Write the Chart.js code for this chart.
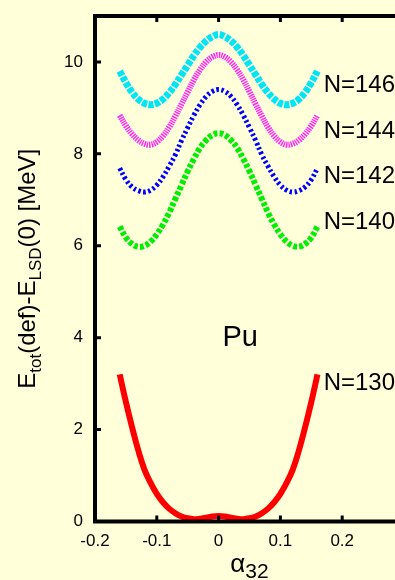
<!DOCTYPE html>
<html>
<head>
<meta charset="utf-8">
<script src="https://cdn.jsdelivr.net/npm/chart.js@4/dist/chart.umd.min.js"></script>
<style>
  html, body { margin: 0; padding: 0; background: #FFFFDA; overflow: hidden; width: 395px; height: 580px; }
  #wrap { position: relative; width: 420px; height: 580px; }
</style>
</head>
<body>
<div id="wrap"><canvas id="c" width="420" height="580"></canvas></div>
<script>
// Octupole deformation alpha_32
const alpha32 = [-0.16, -0.15, -0.14, -0.13, -0.12, -0.11, -0.10, -0.09, -0.08, -0.07, -0.06, -0.05, -0.04, -0.03, -0.02, -0.01,
  0, 0.01, 0.02, 0.03, 0.04, 0.05, 0.06, 0.07, 0.08, 0.09, 0.10, 0.11, 0.12, 0.13, 0.14, 0.15, 0.16];

// Total energy relative to the spherical LSD energy [MeV]
const energyN130 = [3.20, 2.60, 2.05, 1.55, 1.13, 0.84, 0.60, 0.42, 0.28, 0.18, 0.11, 0.07, 0.05, 0.06, 0.08, 0.11,
  0.12, 0.11, 0.08, 0.06, 0.05, 0.07, 0.11, 0.18, 0.28, 0.42, 0.60, 0.84, 1.13, 1.55, 2.05, 2.60, 3.20];
const energyN140 = [6.42, 6.18, 6.04, 5.98, 6.00, 6.09, 6.25, 6.46, 6.72, 7.02, 7.32, 7.62, 7.89, 8.13, 8.30, 8.41,
  8.45, 8.41, 8.30, 8.13, 7.89, 7.62, 7.32, 7.02, 6.72, 6.46, 6.25, 6.09, 6.00, 5.98, 6.04, 6.18, 6.42];
const energyN142 = [7.69, 7.44, 7.28, 7.20, 7.17, 7.21, 7.32, 7.50, 7.73, 7.98, 8.29, 8.57, 8.84, 9.07, 9.25, 9.36,
  9.40, 9.36, 9.25, 9.07, 8.84, 8.57, 8.29, 7.98, 7.73, 7.50, 7.32, 7.21, 7.17, 7.20, 7.28, 7.44, 7.69];
const energyN144 = [8.84, 8.61, 8.43, 8.30, 8.22, 8.20, 8.26, 8.39, 8.58, 8.82, 9.08, 9.35, 9.61, 9.83, 10.00, 10.11,
  10.15, 10.11, 10.00, 9.83, 9.61, 9.35, 9.08, 8.82, 8.58, 8.39, 8.26, 8.20, 8.22, 8.30, 8.43, 8.61, 8.84];
const energyN146 = [9.80, 9.55, 9.34, 9.19, 9.10, 9.07, 9.10, 9.19, 9.33, 9.51, 9.72, 9.93, 10.14, 10.32, 10.46, 10.55,
  10.60, 10.55, 10.46, 10.32, 10.14, 9.93, 9.72, 9.51, 9.33, 9.19, 9.10, 9.07, 9.10, 9.19, 9.34, 9.55, 9.80];

const seriesNames = ['N=130', 'N=140', 'N=142', 'N=144', 'N=146'];
const xTickValues = [-0.2, -0.1, 0, 0.1, 0.2];
const yTickValues = [0, 2, 4, 6, 8, 10];

const FONT = '"Liberation Sans", Arial, Helvetica, sans-serif';
const BG = '#FFFFDA';

// curve label anchors (data coordinates)
const labelAnchor = { x: 0.17, y: [3.0, 6.5, 7.5, 8.5, 9.5] };

const styles = [
  { color: '#FF0000', width: 6, dash: [] },
  { color: '#00EE00', width: 6, dash: [4, 2] },
  { color: '#0000FF', width: 5, dash: [2.5, 2.5] },
  { color: '#FF22FF', width: 6, dash: [1.4, 1] },
  { color: '#00E5F5', width: 7, dash: [5, 1.5] }
];
const seriesValues = [energyN130, energyN140, energyN142, energyN144, energyN146];

const datasets = seriesValues.map((vals, i) => ({
  label: seriesNames[i],
  data: alpha32.map((a, j) => ({ x: a, y: vals[j] })),
  borderColor: styles[i].color,
  borderWidth: styles[i].width,
  borderDash: styles[i].dash,
  borderCapStyle: 'butt',
  pointRadius: 0,
  tension: 0.4,
  fill: false
}));

function measureParts(ctx, parts, mainSize, subSize) {
  let total = 0;
  parts.forEach(p => {
    ctx.font = (p.sub ? subSize : mainSize) + 'px ' + FONT;
    p.w = ctx.measureText(p.t).width;
    total += p.w;
  });
  return total;
}

const decor = {
  id: 'decor',
  beforeDraw(chart) {
    const { ctx, width, height } = chart;
    ctx.save();
    ctx.fillStyle = BG;
    ctx.fillRect(0, 0, width, height);
    ctx.restore();
  },
  afterDatasetsDraw(chart) {
    const { ctx, chartArea: a, scales: { x, y } } = chart;
    ctx.save();
    // frame
    ctx.strokeStyle = '#000';
    ctx.lineWidth = 4;
    ctx.setLineDash([]);
    ctx.strokeRect(a.left, a.top, a.right - a.left, a.bottom - a.top);
    // inward tick marks
    ctx.lineWidth = 3;
    ctx.beginPath();
    xTickValues.forEach(v => {
      const px = x.getPixelForValue(v);
      ctx.moveTo(px, a.bottom); ctx.lineTo(px, a.bottom - 6);
      ctx.moveTo(px, a.top); ctx.lineTo(px, a.top + 6);
    });
    yTickValues.forEach(v => {
      const py = y.getPixelForValue(v);
      ctx.moveTo(a.left, py); ctx.lineTo(a.left + 6, py);
      ctx.moveTo(a.right, py); ctx.lineTo(a.right - 6, py);
    });
    ctx.stroke();

    // curve labels
    ctx.fillStyle = '#000';
    ctx.font = '24px ' + FONT;
    ctx.textAlign = 'left';
    ctx.textBaseline = 'middle';
    seriesNames.forEach((n, i) => {
      ctx.fillText(n, x.getPixelForValue(labelAnchor.x), y.getPixelForValue(labelAnchor.y[i]));
    });

    // element label
    ctx.font = '29px ' + FONT;
    ctx.textAlign = 'center';
    ctx.fillText('Pu', x.getPixelForValue(0.035), y.getPixelForValue(4.0));

    // y axis title with subscripts
    const yParts = [
      { t: 'E' }, { t: 'tot', sub: true }, { t: '(def)-E' }, { t: 'LSD', sub: true }, { t: '(0) [MeV]' }
    ];
    const total = measureParts(ctx, yParts, 24, 17);
    ctx.save();
    ctx.translate(35, (a.top + a.bottom) / 2);
    ctx.rotate(-Math.PI / 2);
    ctx.textAlign = 'left';
    ctx.textBaseline = 'alphabetic';
    let cx = -total / 2;
    yParts.forEach(p => {
      ctx.font = (p.sub ? 17 : 24) + 'px ' + FONT;
      ctx.fillText(p.t, cx, p.sub ? 6 : 0);
      cx += p.w;
    });
    ctx.restore();

    // x axis title: alpha with subscript 32
    ctx.textAlign = 'left';
    ctx.textBaseline = 'alphabetic';
    ctx.font = '26px ' + FONT;
    const wA = ctx.measureText('α').width;
    ctx.font = '21px ' + FONT;
    const wS = ctx.measureText('32').width;
    const startX = (a.left + a.right) / 2 - (wA + wS) / 2;
    ctx.font = '26px ' + FONT;
    ctx.fillText('α', startX, 572);
    ctx.font = '21px ' + FONT;
    ctx.fillText('32', startX + wA, 578);
    ctx.restore();
  }
};

new Chart(document.getElementById('c'), {
  type: 'line',
  data: { datasets },
  plugins: [decor],
  options: {
    responsive: false,
    devicePixelRatio: 1,
    animation: false,
    layout: { padding: { top: 16, right: 16, left: 0, bottom: 0 } },
    plugins: { legend: { display: false }, tooltip: { enabled: false } },
    scales: {
      x: {
        type: 'linear',
        min: -0.2,
        max: 0.3,
        grid: { display: false, drawTicks: false },
        border: { display: false },
        afterBuildTicks: s => { s.ticks = xTickValues.map(v => ({ value: v })); },
        afterFit: s => { s.height = 58.5; s.paddingLeft = 0; s.paddingRight = 0; },
        ticks: {
          autoSkip: false,
          maxRotation: 0,
          padding: 10,
          color: '#000',
          font: { family: FONT, size: 17 },
          callback: v => String(v)
        }
      },
      y: {
        type: 'linear',
        min: 0,
        max: 11,
        grid: { display: false, drawTicks: false },
        border: { display: false },
        afterBuildTicks: s => { s.ticks = yTickValues.map(v => ({ value: v })); },
        afterFit: s => { s.width = 95; s.paddingTop = 0; s.paddingBottom = 0; },
        ticks: {
          padding: 12,
          color: '#000',
          font: { family: FONT, size: 17 },
          callback: v => String(v)
        }
      }
    }
  }
});
</script>
</body>
</html>
